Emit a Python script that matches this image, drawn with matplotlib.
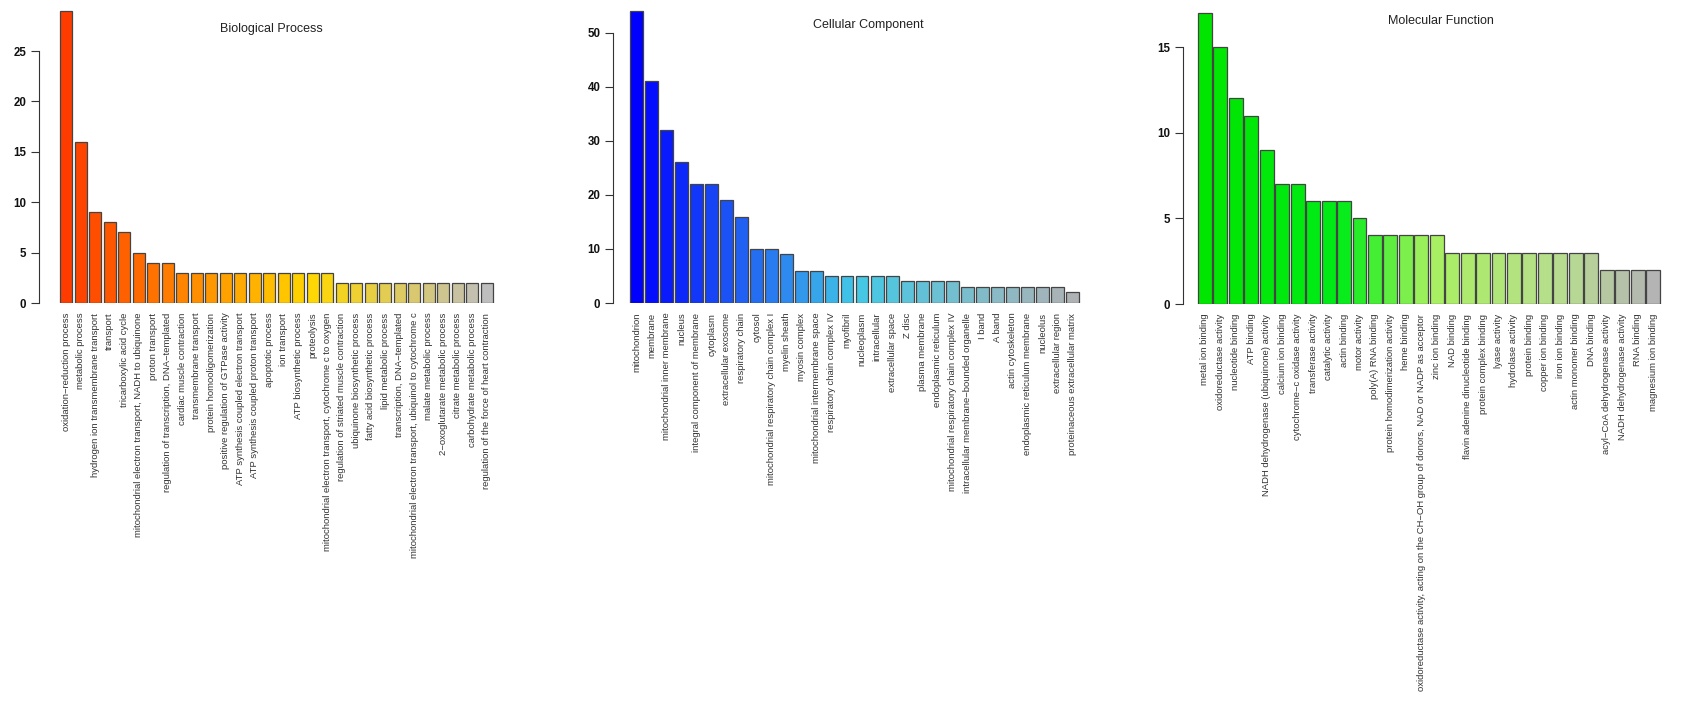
import numpy as np
import matplotlib
matplotlib.use("Agg")
import matplotlib.pyplot as plt
from matplotlib.colors import LinearSegmentedColormap

# GO term counts per category
bp_terms = [
    "oxidation−reduction process", "metabolic process", "hydrogen ion transmembrane transport",
    "transport", "tricarboxylic acid cycle", "mitochondrial electron transport, NADH to ubiquinone",
    "proton transport", "regulation of transcription, DNA−templated", "cardiac muscle contraction",
    "transmembrane transport", "protein homooligomerization", "positive regulation of GTPase activity",
    "ATP synthesis coupled electron transport", "ATP synthesis coupled proton transport",
    "apoptotic process", "ion transport", "ATP biosynthetic process", "proteolysis",
    "mitochondrial electron transport, cytochrome c to oxygen", "regulation of striated muscle contraction",
    "ubiquinone biosynthetic process", "fatty acid biosynthetic process", "lipid metabolic process",
    "transcription, DNA−templated", "mitochondrial electron transport, ubiquinol to cytochrome c",
    "malate metabolic process", "2−oxoglutarate metabolic process", "citrate metabolic process",
    "carbohydrate metabolic process", "regulation of the force of heart contraction",
]
bp_counts = [29, 16, 9, 8, 7, 5, 4, 4, 3, 3, 3, 3, 3, 3, 3, 3, 3, 3, 3,
             2, 2, 2, 2, 2, 2, 2, 2, 2, 2, 2]

cc_terms = [
    "mitochondrion", "membrane", "mitochondrial inner membrane", "nucleus",
    "integral component of membrane", "cytoplasm", "extracellular exosome", "respiratory chain",
    "cytosol", "mitochondrial respiratory chain complex I", "myelin sheath", "myosin complex",
    "mitochondrial intermembrane space", "respiratory chain complex IV", "myofibril", "nucleoplasm",
    "intracellular", "extracellular space", "Z disc", "plasma membrane", "endoplasmic reticulum",
    "mitochondrial respiratory chain complex IV", "intracellular membrane−bounded organelle",
    "I band", "A band", "actin cytoskeleton", "endoplasmic reticulum membrane", "nucleolus",
    "extracellular region", "proteinaceous extracellular matrix",
]
cc_counts = [54, 41, 32, 26, 22, 22, 19, 16, 10, 10, 9, 6, 6, 5, 5, 5, 5, 5,
             4, 4, 4, 4, 3, 3, 3, 3, 3, 3, 3, 2]

mf_terms = [
    "metal ion binding", "oxidoreductase activity", "nucleotide binding", "ATP binding",
    "NADH dehydrogenase (ubiquinone) activity", "calcium ion binding", "cytochrome−c oxidase activity",
    "transferase activity", "catalytic activity", "actin binding", "motor activity",
    "poly(A) RNA binding", "protein homodimerization activity", "heme binding",
    "oxidoreductase activity, acting on the CH−OH group of donors, NAD or NADP as acceptor",
    "zinc ion binding", "NAD binding", "flavin adenine dinucleotide binding", "protein complex binding",
    "lyase activity", "hydrolase activity", "protein binding", "copper ion binding", "iron ion binding",
    "actin monomer binding", "DNA binding", "acyl−CoA dehydrogenase activity",
    "NADH dehydrogenase activity", "RNA binding", "magnesium ion binding",
]
mf_counts = [17, 15, 12, 11, 9, 7, 7, 6, 6, 6, 5, 4, 4, 4, 4, 4,
             3, 3, 3, 3, 3, 3, 3, 3, 3, 3, 2, 2, 2, 2]

W, H = 1704, 702
fig = plt.figure(figsize=(W / 100, H / 100), dpi=100)

bp_cmap = LinearSegmentedColormap.from_list(
    "bp", [(0, "#FF3C00"), (0.58, "#FFD700"), (1, "#BEBEBE")])
cc_cmap = LinearSegmentedColormap.from_list(
    "cc", [(0, "#0000FF"), (0.5, "#42C8E6"), (1, "#AEB2B4")])
mf_cmap = LinearSegmentedColormap.from_list(
    "mf", [(0, "#00E600"), (0.3, "#00EC18"), (0.5, "#A8F060"), (0.8, "#B8DC90"), (1, "#B4B4B4")])

# pixel geometry: spine x, first bar left, last bar right, zero line y, top tick y
panels = [
    dict(title="Biological Process", terms=bp_terms, counts=bp_counts, cmap=bp_cmap,
         spine=39, left=60, right=493, y0=303, ytop=51, top=25, step=5, w=0.86, tx=271, ty=29),
    dict(title="Cellular Component", terms=cc_terms, counts=cc_counts, cmap=cc_cmap,
         spine=613, left=630, right=1079, y0=303, ytop=32.7, top=50, step=10, w=0.86, tx=868, ty=25),
    dict(title="Molecular Function", terms=mf_terms, counts=mf_counts, cmap=mf_cmap,
         spine=1183, left=1198, right=1660, y0=304, ytop=47, top=15, step=5, w=0.9, tx=1441, ty=21),
]

for p in panels:
    n = len(p["counts"])
    w = p["w"]
    slot = (p["right"] - p["left"]) / (n - 1 + w)
    right_px = p["right"] + 6
    xl = -w / 2 - (p["left"] - p["spine"]) / slot
    xr = n - 1 + w / 2 + 6 / slot
    per_px = p["top"] / (p["y0"] - p["ytop"])
    yt = (p["y0"] - 4) * per_px

    ax = fig.add_axes([p["spine"] / W, (H - p["y0"]) / H,
                       (right_px - p["spine"]) / W, (p["y0"] - 4) / H])
    colors = p["cmap"](np.linspace(0, 1, n))
    ax.bar(np.arange(n), p["counts"], width=w, color=colors,
           edgecolor="#444444", linewidth=0.9)
    ax.set_xlim(xl, xr)
    ax.set_ylim(0, yt)

    for s in ["top", "right", "bottom"]:
        ax.spines[s].set_visible(False)
    ax.spines["left"].set_bounds(0, p["top"])
    ax.spines["left"].set_color("#333333")
    ax.spines["left"].set_linewidth(0.8)

    ax.set_yticks(np.arange(0, p["top"] + 1, p["step"]))
    ax.tick_params(axis="y", length=6, width=0.8, color="#333333", pad=3,
                   labelsize=8.3, labelcolor="#111111")
    for lab in ax.get_yticklabels():
        lab.set_fontweight("bold")
        lab.set_family("Liberation Sans")

    ax.set_xticks(np.arange(n))
    ax.set_xticklabels(p["terms"], rotation=90, fontsize=6.8, color="#333333",
                       family="Liberation Sans", va="top", ha="center")
    ax.tick_params(axis="x", length=0, pad=7)

    fig.text(p["tx"] / W, 1 - p["ty"] / H, p["title"], ha="center", va="center",
             fontsize=9, family="Liberation Sans", color="#222222")

fig.savefig("out.png", dpi=100, facecolor="white")
